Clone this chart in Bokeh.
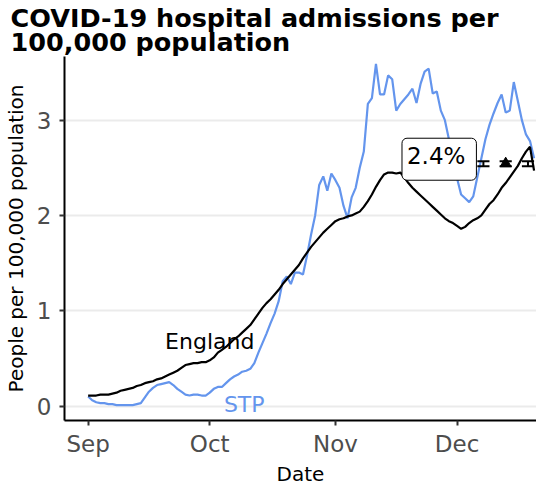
import pandas as pd
from bokeh.plotting import figure
from bokeh.models import (Range1d, FixedTicker, DatetimeTickFormatter, Label,
                          ColumnDataSource, Title)
from bokeh.embed import file_html
from bokeh.resources import INLINE

# ---------------- data ----------------
start_date = "2020-09-01"
dates = pd.date_range(start_date, periods=111, freq="D")

england = [0.11, 0.11, 0.11, 0.12, 0.12, 0.12, 0.13, 0.14, 0.16, 0.17,
           0.18, 0.19, 0.21, 0.22, 0.24, 0.25, 0.26, 0.28, 0.29, 0.31,
           0.33, 0.35, 0.37, 0.40, 0.43, 0.44, 0.45, 0.45, 0.46, 0.46,
           0.48, 0.51, 0.56, 0.59, 0.62, 0.66, 0.70, 0.73, 0.77, 0.81,
           0.85, 0.91, 0.97, 1.03, 1.08, 1.12, 1.17, 1.22, 1.28, 1.33,
           1.38, 1.43, 1.48, 1.55, 1.61, 1.67, 1.72, 1.77, 1.82, 1.86,
           1.90, 1.94, 1.96, 1.97, 1.99, 2.00, 2.02, 2.04, 2.09, 2.15,
           2.22, 2.30, 2.37, 2.43, 2.45, 2.45, 2.44, 2.45, 2.40, 2.34,
           2.29, 2.25, 2.21, 2.17, 2.13, 2.09, 2.05, 2.01, 1.97, 1.94,
           1.92, 1.89, 1.86, 1.88, 1.92, 1.95, 1.97, 2.00, 2.06, 2.12,
           2.16, 2.22, 2.29, 2.34, 2.40, 2.46, 2.52, 2.60, 2.67, 2.72,
           2.47]

stp = [0.10, 0.06, 0.04, 0.03, 0.03, 0.02, 0.02, 0.01, 0.01, 0.01,
       0.01, 0.01, 0.02, 0.03, 0.09, 0.15, 0.19, 0.22, 0.23, 0.24,
       0.25, 0.22, 0.18, 0.15, 0.12, 0.11, 0.12, 0.12, 0.11, 0.11,
       0.14, 0.18, 0.20, 0.20, 0.24, 0.28, 0.31, 0.33, 0.36, 0.37,
       0.39, 0.45, 0.56, 0.66, 0.76, 0.87, 0.97, 1.10, 1.31, 1.36,
       1.28, 1.40, 1.40, 1.38, 1.58, 1.80, 2.00, 2.32, 2.41, 2.26,
       2.44, 2.37, 2.29, 2.10, 1.97, 2.19, 2.29, 2.50, 2.67, 3.17,
       3.23, 3.59, 3.27, 3.27, 3.47, 3.43, 3.10, 3.17, 3.22, 3.27,
       3.33, 3.18, 3.38, 3.51, 3.54, 3.28, 3.30, 3.10, 3.00, 2.80,
       2.55, 2.39, 2.22, 2.18, 2.14, 2.20, 2.40, 2.60, 2.80, 2.95,
       3.07, 3.18, 3.27, 3.08, 3.10, 3.40, 3.20, 3.00, 2.85, 2.78,
       2.60]

errbar_dates = pd.to_datetime(["2020-12-07 12:00", "2020-12-13 00:00", "2020-12-18 12:00"])
errbar_low = [2.515, 2.515, 2.515]
errbar_high = [2.57, 2.57, 2.57]
errbar_point = 2.545
change_label = "2.4%"

title_text = "COVID-19 hospital admissions per\n100,000 population"
x_ticks = pd.to_datetime(["2020-09-01", "2020-10-01", "2020-11-01", "2020-12-01"])
y_ticks = [0, 1, 2, 3]

# ---------------- figure ----------------
FONT = "DejaVu Sans"
day = pd.Timedelta(days=1)
x0 = pd.Timestamp(start_date)

p = figure(width=536, height=485, output_backend="svg", toolbar_location=None,
           x_axis_type="datetime",
           x_range=Range1d(x0 - 5.83 * day, x0 + 110.6 * day),
           y_range=Range1d(-0.152, 3.668),
           min_border_left=59, min_border_right=0, min_border_top=0,
           min_border_bottom=0)
p.outline_line_color = None
p.background_fill_color = "white"
p.border_fill_color = "white"

p.add_layout(Title(text=title_text, text_font=FONT, text_font_style="bold",
                   text_font_size="25.5px", text_color="black",
                   align="left", offset=-54, standoff=0,
                   text_line_height=0.8), "above")

# x-axis title as a centred title below the axis
p.add_layout(Title(text="Date", text_font=FONT, text_font_style="normal",
                   text_font_size="20px", text_color="black",
                   align="center", standoff=0, text_line_height=0.8), "below")

p.xgrid.grid_line_color = None
p.ygrid.grid_line_color = "#ebebeb"
p.ygrid.grid_line_width = 2

p.xaxis.ticker = FixedTicker(ticks=[t.value / 1e6 for t in x_ticks])
p.xaxis.formatter = DatetimeTickFormatter(months="%b", days="%b")
p.yaxis.ticker = FixedTicker(ticks=y_ticks)

for ax in (p.xaxis, p.yaxis):
    ax.axis_line_color = "black"
    ax.axis_line_width = 2
    ax.major_tick_line_color = "#333333"
    ax.major_tick_line_width = 2
    ax.major_tick_out = 5
    ax.major_tick_in = 0
    ax.minor_tick_line_color = None
    ax.major_label_text_font = FONT
    ax.major_label_text_font_size = "23px"
    ax.major_label_text_color = "#4d4d4d"
    ax.major_label_text_line_height = 1.0
    ax.axis_label_text_font = FONT
    ax.axis_label_text_font_size = "20px"
    ax.axis_label_text_font_style = "normal"
    ax.axis_label_text_color = "black"

p.yaxis.axis_label = "People per 100,000 population"
p.xaxis.major_label_standoff = 5
p.yaxis.major_label_standoff = 8
p.yaxis.axis_label_standoff = 6

src = ColumnDataSource(dict(date=dates, england=england, stp=stp))
p.line("date", "stp", source=src, line_color="#6495ED", line_width=2.2)
p.line("date", "england", source=src, line_color="black", line_width=2.2)

# error bars
half = 1.5 * day
ex0 = [d - half for d in errbar_dates]
ex1 = [d + half for d in errbar_dates]
p.segment(ex0, errbar_high, ex1, errbar_high, line_color="black", line_width=2)
p.segment(ex0, errbar_low, ex1, errbar_low, line_color="black", line_width=2)
p.segment(list(errbar_dates), errbar_low, list(errbar_dates), errbar_high,
          line_color="black", line_width=2)
p.scatter([errbar_dates[1]], [errbar_point], marker="triangle", size=11,
          fill_color="black", line_color="black")

# text annotations
p.add_layout(Label(x=x0 + 30 * day, y=0.68, text="England", text_align="center",
                   text_baseline="middle", text_font=FONT, text_font_size="22px",
                   text_color="black"))
p.add_layout(Label(x=x0 + 38.5 * day, y=0.02, text="STP", text_align="center",
                   text_baseline="middle", text_font=FONT, text_font_size="22px",
                   text_color="#6495ED"))
p.add_layout(Label(x=x0 + 86.6 * day, y=2.59, text=change_label, text_align="center",
                   text_baseline="middle", text_font=FONT, text_font_size="23px",
                   text_color="black", background_fill_color="white",
                   border_line_color="black", border_line_width=1,
                   padding=(5, 11, 5, 11), border_radius=5))

open("out.html", "w").write(file_html(p, INLINE))
